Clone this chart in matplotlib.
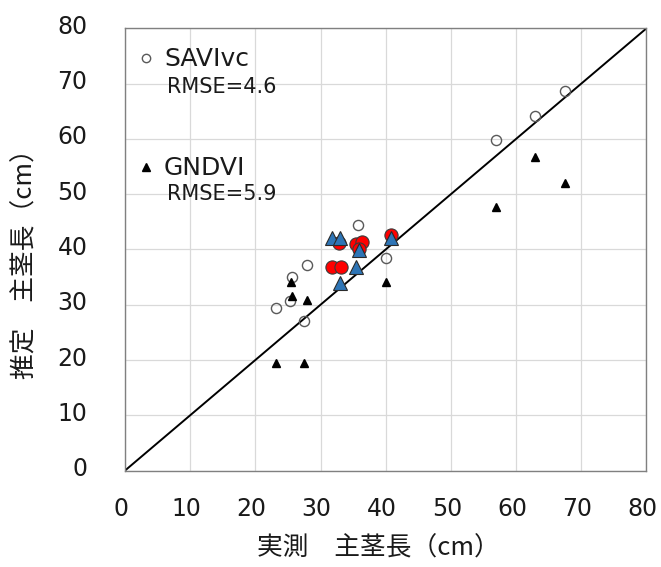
import matplotlib
matplotlib.use('Agg')
import matplotlib.pyplot as plt
import matplotlib.transforms as mtransforms
from matplotlib.lines import Line2D

# 実測 vs 推定 主茎長 (cm)
savi_x = [23.1, 25.3, 25.6, 28.0, 27.5, 35.8, 40.1, 56.9, 62.9, 67.5]
savi_y = [29.4, 30.6, 35.1, 37.2, 27.1, 44.4, 38.4, 59.8, 64.2, 68.7]

gndvi_x = [23.1, 27.5, 25.4, 25.6, 28.0, 40.1, 56.9, 62.9, 67.5]
gndvi_y = [19.4, 19.4, 34.2, 31.6, 30.9, 34.2, 47.7, 56.8, 52.0]

# 強調表示したサンプル
savi_hl_x = [31.8, 33.1, 32.8, 35.5, 36.3, 35.9, 40.8]
savi_hl_y = [36.9, 36.9, 41.1, 41.0, 41.3, 40.0, 42.6]

gndvi_hl_x = [31.8, 33.0, 33.0, 35.5, 35.9, 40.8]
gndvi_hl_y = [42.0, 42.0, 34.0, 36.9, 39.9, 42.0]

one_to_one = [0, 80]
ticks = [0, 10, 20, 30, 40, 50, 60, 70, 80]

rmse_savi = 4.6
rmse_gndvi = 5.9

jp_font = ['Noto Sans CJK JP', 'DejaVu Sans']
txt_color = '#1a1a1a'

fig = plt.figure(figsize=(6.61, 5.67), dpi=100)
ax = fig.add_axes([0.189, 0.170, 0.789, 0.780])

ax.plot(one_to_one, one_to_one, color='black', linewidth=1.4, zorder=2)

ax.plot(savi_x, savi_y, linestyle='none', marker='o', markersize=7.3,
        markerfacecolor='none', markeredgecolor='#595959', markeredgewidth=1.0, zorder=3)
ax.plot(gndvi_x, gndvi_y, linestyle='none', marker='^', markersize=6.3,
        color='black', zorder=3)
ax.plot(savi_hl_x, savi_hl_y, linestyle='none', marker='o', markersize=9.5,
        markerfacecolor='#ff0000', markeredgecolor='#3a3a3a', markeredgewidth=0.8, zorder=4)
ax.plot(gndvi_hl_x, gndvi_hl_y, linestyle='none', marker='^', markersize=10,
        markerfacecolor='#2e75b6', markeredgecolor='#2a2a2a', markeredgewidth=0.8, zorder=5)

ax.set_xlim(0, 80)
ax.set_ylim(0, 80)
ax.set_xticks(ticks)
ax.set_yticks(ticks)
ax.grid(True, color='#d9d9d9', linewidth=0.9)
ax.set_axisbelow(True)
ax.tick_params(length=0, labelsize=17, labelcolor=txt_color)
ax.tick_params(axis='x', pad=19)
ax.tick_params(axis='y', pad=27)
for sp in ax.spines.values():
    sp.set_color('#808080')
    sp.set_linewidth(1.0)

# 目盛ラベルを少しずらす
dx = mtransforms.ScaledTranslation(-4 / 100, 0, fig.dpi_scale_trans)
dy = mtransforms.ScaledTranslation(0, 4 / 100, fig.dpi_scale_trans)
for lbl in ax.get_xticklabels():
    lbl.set_transform(lbl.get_transform() + dx)
for lbl in ax.get_yticklabels():
    lbl.set_transform(lbl.get_transform() + dy)

fig.text(0.573, 0.032, '実測　主茎長（cm）', ha='center', va='center',
         fontsize=18.5, family=jp_font, color=txt_color)
fig.text(0.038, 0.545, '推定　主茎長（cm）', ha='center', va='center', rotation=90,
         fontsize=18.5, family=jp_font, color=txt_color)

handles = [
    Line2D([], [], linestyle='none', marker='o', markersize=6,
           markerfacecolor='none', markeredgecolor='#595959', markeredgewidth=1.0),
    Line2D([], [], linestyle='none', marker='^', markersize=5.5, color='black'),
]
ax.legend(handles, ['SAVIvc', 'GNDVI'], loc='upper left', bbox_to_anchor=(0.022, 0.957),
          frameon=False, fontsize=18, handlelength=0.8, handletextpad=0.3,
          borderpad=0, borderaxespad=0, labelspacing=3.4, labelcolor=txt_color)

ax.text(0.080, 0.853, 'RMSE=%.1f' % rmse_savi, transform=ax.transAxes,
        fontsize=15, va='baseline', ha='left', color=txt_color)
ax.text(0.080, 0.612, 'RMSE=%.1f' % rmse_gndvi, transform=ax.transAxes,
        fontsize=15, va='baseline', ha='left', color=txt_color)

fig.savefig('out.png', dpi=100)
